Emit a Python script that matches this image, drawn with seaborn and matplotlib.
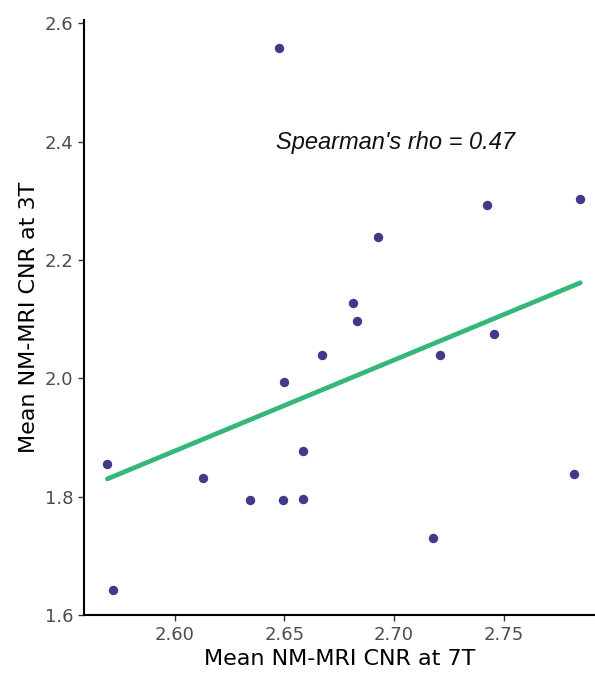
import matplotlib
matplotlib.use("Agg")
import matplotlib.pyplot as plt
import seaborn as sns
import numpy as np
import pandas as pd

cnr_7t = [2.5693, 2.5717, 2.6128, 2.6345, 2.6495, 2.6587, 2.6587, 2.6477, 2.6497,
          2.6672, 2.6813, 2.6830, 2.6926, 2.7177, 2.7212, 2.7423, 2.7457, 2.7850, 2.7823]
cnr_3t = [1.856, 1.642, 1.831, 1.794, 1.795, 1.797, 1.878, 2.558, 1.994,
          2.040, 2.1266, 2.0975, 2.238, 1.731, 2.040, 2.292, 2.075, 2.303, 1.839]
x_ticks = [2.60, 2.65, 2.70, 2.75]
y_ticks = [1.6, 1.8, 2.0, 2.2, 2.4, 2.6]
annotation = "Spearman's rho = 0.47"

df = pd.DataFrame({"x": cnr_7t, "y": cnr_3t})

sns.set_style("ticks")
fig = plt.figure(figsize=(5.95, 6.73), dpi=100)
ax = fig.add_axes([0.141, 0.086, 0.859, 0.884])

sns.regplot(data=df, x="x", y="y", ax=ax, ci=None, truncate=True,
            scatter_kws=dict(color="#3F3B8A", s=46, linewidths=0, alpha=1, zorder=3),
            line_kws=dict(color="#35B779", lw=3.4, zorder=2))

ax.set_xlim(2.5586, 2.7917)
ax.set_ylim(1.6, 2.605)
ax.set_xticks(x_ticks)
ax.set_xticklabels([f"{v:.2f}" for v in x_ticks])
ax.set_yticks(y_ticks)
ax.set_yticklabels([f"{v:.1f}" for v in y_ticks])

ax.text(2.7005, 2.398, annotation, ha="center", va="center", fontsize=17,
        style="italic", family="Liberation Sans", color="#111111")

ax.set_xlabel("Mean NM-MRI CNR at 7T", fontsize=16, color="black", family="DejaVu Sans", labelpad=4)
ax.set_ylabel("Mean NM-MRI CNR at 3T", fontsize=16, color="black", family="DejaVu Sans", labelpad=4)
ax.tick_params(axis="both", labelsize=13, labelcolor="#4D4D4D", color="#333333",
               length=4, width=1.0)
for s in ["left", "bottom"]:
    ax.spines[s].set_linewidth(1.5)
    ax.spines[s].set_color("black")
sns.despine(ax=ax)

fig.savefig("out.png", dpi=100)
